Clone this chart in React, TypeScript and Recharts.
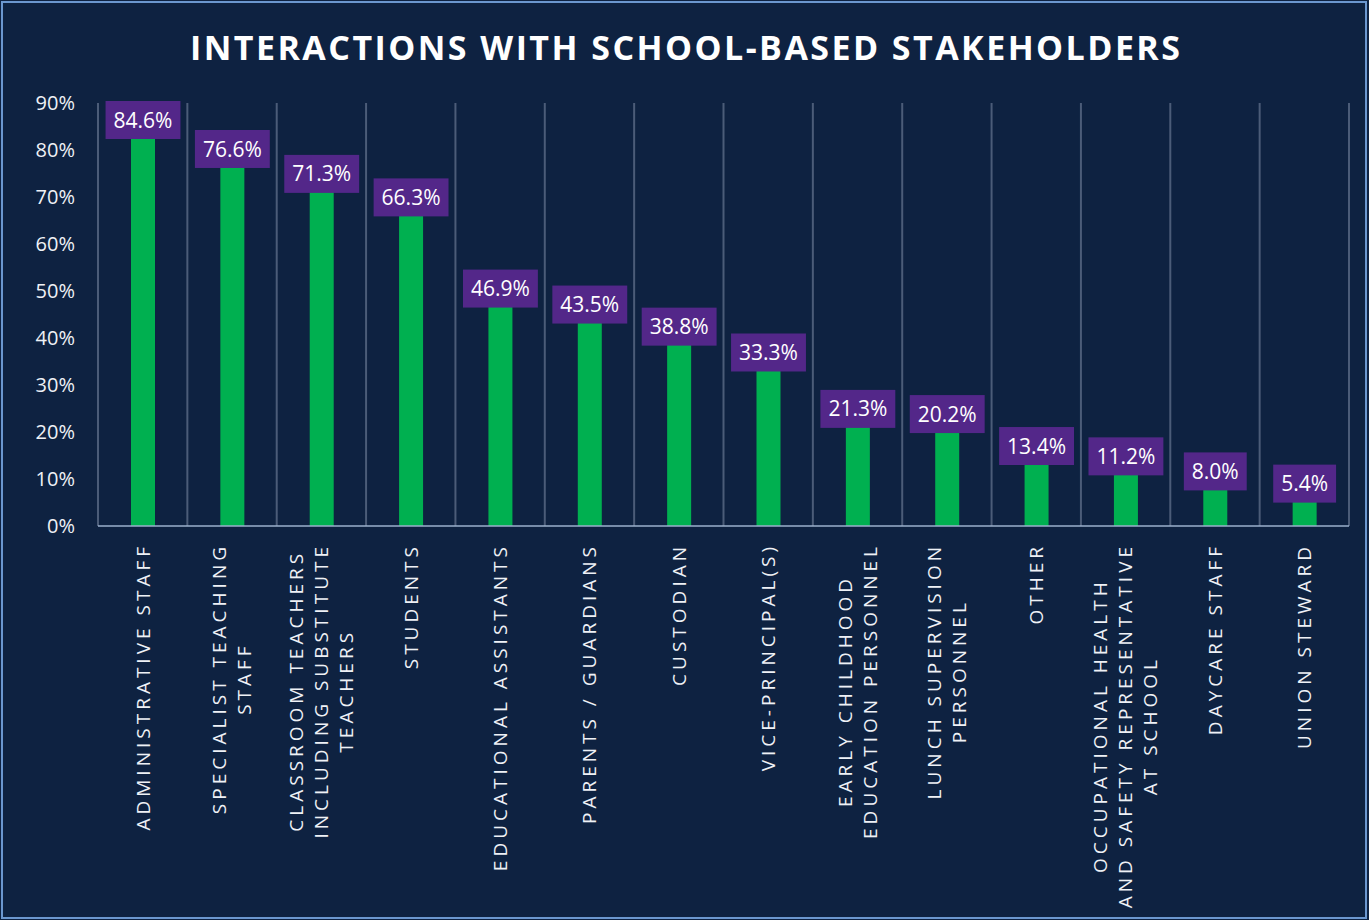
import React from "react";
import { BarChart, Bar, XAxis, YAxis, CartesianGrid, LabelList } from "recharts";

const categories = [
    "ADMINISTRATIVE STAFF",
    "SPECIALIST TEACHING\nSTAFF",
    "CLASSROOM TEACHERS\nINCLUDING SUBSTITUTE\nTEACHERS",
    "STUDENTS",
    "EDUCATIONAL ASSISTANTS",
    "PARENTS / GUARDIANS",
    "CUSTODIAN",
    "VICE-PRINCIPAL(S)",
    "EARLY CHILDHOOD\nEDUCATION PERSONNEL",
    "LUNCH SUPERVISION\nPERSONNEL",
    "OTHER",
    "OCCUPATIONAL HEALTH\nAND SAFETY REPRESENTATIVE\nAT SCHOOL",
    "DAYCARE STAFF",
    "UNION STEWARD",
];
const values = [84.6, 76.6, 71.3, 66.3, 46.9, 43.5, 38.8, 33.3, 21.3, 20.2, 13.4, 11.2, 8.0, 5.4];
const yTicks = [0, 10, 20, 30, 40, 50, 60, 70, 80, 90];

const data = categories.map((name, i) => ({ name, value: values[i] }));

const W = 1369;
const H = 920;
const BG = "#0e2241";
const GREEN = "#00b050";
const PURPLE = "#532789";
const FONT = '"Open Sans", sans-serif';
const TEXT = "#eef1f6";

let ctx: CanvasRenderingContext2D | null = null;
function measure(s: string, font: string, spacing = 0) {
    if (!ctx) ctx = document.createElement("canvas").getContext("2d");
    if (!ctx) return s.length * 10;
    ctx.font = font;
    return ctx.measureText(s).width + spacing * s.length;
}

const X_FS = 19;
const X_LS = 4;
const LINE = 25;

const CategoryTick = (props: any) => {
    const { x, y, payload } = props;
    const lines: string[] = String(payload.value).split("\n");
    const font = `${X_FS}px "Open Sans"`;
    const maxLen = Math.max(...lines.map((l) => measure(l, font, X_LS)));
    const center = 15 + maxLen / 2;
    return (
        <g transform={`translate(${x},${y})`}>
            {lines.map((l, i) => (
                <text
                    key={i}
                    transform="rotate(-90)"
                    x={-center}
                    y={(i - (lines.length - 1) / 2) * LINE}
                    dy="0.36em"
                    textAnchor="middle"
                    fill={TEXT}
                    fontSize={X_FS}
                    fontFamily={FONT}
                    letterSpacing={X_LS}
                >
                    {l}
                </text>
            ))}
        </g>
    );
};

const ValueLabel = (props: any) => {
    const { x, y, width, value } = props;
    const cx = Number(x) + Number(width) / 2;
    const text = `${Number(value).toFixed(1)}%`;
    const w = measure(text, '21px "Open Sans"') + 16;
    const h = 38;
    let top = Number(y) + 2 - h;
    if (top < 101) top = 101;
    return (
        <g>
            <rect x={cx - w / 2} y={top} width={w} height={h} fill={PURPLE} />
            <text x={cx} y={top + h / 2} dy="0.36em" textAnchor="middle" fill="#fff" fontSize={21} fontFamily={FONT}>
                {text}
            </text>
        </g>
    );
};

export default function App() {
    return (
        <div style={{ position: "absolute", left: 0, top: 0, width: W, height: H, background: BG }}>
            <svg width={W} height={H} style={{ position: "absolute", left: 0, top: 0 }}>
                <rect x={2} y={2} width={W - 5} height={H - 4} fill="none" stroke="#6b97cf" strokeWidth={2} />
                <text
                    x={685}
                    y={48}
                    dy="0.36em"
                    textAnchor="middle"
                    fill="#ffffff"
                    fontSize={34}
                    fontWeight={700}
                    fontFamily={FONT}
                    textLength={990}
                    lengthAdjust="spacing"
                >
                    INTERACTIONS WITH SCHOOL-BASED STAKEHOLDERS
                </text>
            </svg>
            <div style={{ position: "absolute", left: 0, top: 0 }}>
                <BarChart width={W} height={H} data={data} margin={{ top: 103, right: 20, bottom: 0, left: 0 }}>
                    <CartesianGrid
                        horizontal={false}
                        stroke="#4b5c78"
                        strokeWidth={2}
                        verticalCoordinatesGenerator={({ offset }: any) =>
                            categories.map((_, i) => offset.left + (offset.width * i) / categories.length).concat([offset.left + offset.width])
                        }
                    />
                    <XAxis
                        dataKey="name"
                        interval={0}
                        height={394}
                        tickSize={0}
                        tickLine={false}
                        axisLine={{ stroke: "#9bb0cd", strokeWidth: 1.5 }}
                        tick={<CategoryTick />}
                    />
                    <YAxis
                        width={98}
                        domain={[0, 90]}
                        ticks={yTicks}
                        axisLine={false}
                        tickLine={false}
                        tickMargin={17}
                        tick={{ fill: TEXT, fontSize: 20, fontFamily: FONT }}
                        tickFormatter={(v: number) => `${v}%`}
                    />
                    <Bar dataKey="value" fill={GREEN} barSize={24} isAnimationActive={false}>
                        <LabelList dataKey="value" content={<ValueLabel />} />
                    </Bar>
                </BarChart>
            </div>
        </div>
    );
}
